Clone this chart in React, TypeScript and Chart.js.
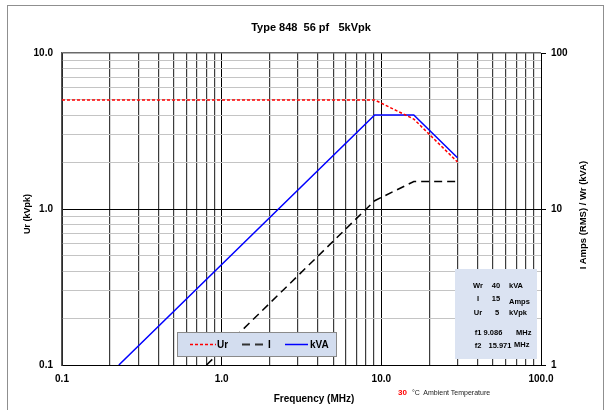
import React, { useEffect, useRef } from "react";
import { Chart, registerables } from "chart.js";

Chart.register(...registerables);

// ---- data ----
const freqUr = [0.1, 9.086, 15.971, 30];
const urValues = [5, 5, 3.77, 2.0];
const freqI = [0.804, 9.086, 15.971, 30];
const iValues = [1, 11.3, 15, 15];
const freqKva = [0.227, 9.086, 15.971, 30];
const kvaValues = [1, 40, 40, 21.3];

// ---- ticks ----
const xDecades = [0.1, 1, 10];
const leftDecades = [0.1, 1];
const multiples = [1, 2, 3, 4, 5, 6, 7, 8, 9];
const xMajorTicks = [0.1, 1, 10, 100];
const xTickLabels = ["0.1", "1.0", "10.0", "100.0"];
const leftMajorTicks = [0.1, 1, 10];
const leftTickLabels = ["0.1", "1.0", "10.0"];
const rightMajorTicks = [1, 10, 100];
const rightTickLabels = ["1", "10", "100"];

const infoLabels = ["Wr", "I", "Ur", "f1", "f2"];
const infoValues = ["40", "15", "5", "9.086", "15.971"];
const infoUnits = ["kVA", "Amps", "kVpk", "MHz", "MHz"];

const FONT = "'Liberation Sans', Arial, sans-serif";

const gridValues = (decades: number[], last: number) => {
  const out: number[] = [];
  decades.forEach((d) => multiples.forEach((m) => out.push(Math.round(d * m * 1e6) / 1e6)));
  out.push(last);
  return out;
};

const findIdx = (v: number, majors: number[]) =>
  majors.findIndex((m) => Math.abs(v - m) / m < 1e-6);

export default function App() {
  const ref = useRef<HTMLCanvasElement | null>(null);

  useEffect(() => {
    if (!ref.current) return;
    const xGrid = gridValues(xDecades, 100);
    const yGrid = gridValues(leftDecades, 10);
    const tickFont = { family: FONT, size: 10, weight: "bold" as const };
    const chart = new Chart(ref.current, {
      type: "line",
      data: {
        datasets: [
          {
            label: "Ur",
            data: freqUr.map((f, i) => ({ x: f, y: urValues[i] })),
            borderColor: "#ff0000",
            borderDash: [3, 2],
            borderWidth: 1.5,
            pointRadius: 0,
            yAxisID: "y",
          },
          {
            label: "I",
            data: freqI.map((f, i) => ({ x: f, y: iValues[i] })),
            borderColor: "#000000",
            borderDash: [8, 5],
            borderWidth: 1.5,
            pointRadius: 0,
            yAxisID: "y1",
          },
          {
            label: "kVA",
            data: freqKva.map((f, i) => ({ x: f, y: kvaValues[i] })),
            borderColor: "#0000ff",
            borderWidth: 1.5,
            pointRadius: 0,
            yAxisID: "y1",
          },
        ],
      },
      options: {
        animation: false,
        responsive: true,
        maintainAspectRatio: false,
        layout: { padding: { top: 53, left: 0, right: 0, bottom: 0 } },
        plugins: { legend: { display: false }, tooltip: { enabled: false } },
        scales: {
          x: {
            type: "logarithmic",
            min: 0.1,
            max: 100,
            afterBuildTicks: (s: any) => {
              s.ticks = xGrid.map((v) => ({ value: v }));
            },
            afterFit: (s: any) => {
              s.height = 45;
            },
            ticks: {
              autoSkip: false,
              maxRotation: 0,
              padding: 8,
              color: "#000",
              font: tickFont,
              callback: (v: any) => {
                const i = findIdx(Number(v), xMajorTicks);
                return i >= 0 ? xTickLabels[i] : "";
              },
            },
            grid: {
              drawTicks: false,
              color: (c: any) => (c.tick && findIdx(c.tick.value, xMajorTicks) >= 0 ? "#000" : "#3c3c3c"),
              lineWidth: (c: any) => (c.tick && findIdx(c.tick.value, xMajorTicks) >= 0 ? 1 : 1.2),
            },
            border: { color: "#000", width: 1 },
          },
          y: {
            type: "logarithmic",
            position: "left",
            min: 0.1,
            max: 10,
            afterBuildTicks: (s: any) => {
              s.ticks = yGrid.map((v) => ({ value: v }));
            },
            afterFit: (s: any) => {
              s.width = 62;
            },
            ticks: {
              autoSkip: false,
              padding: 9,
              color: "#000",
              font: tickFont,
              callback: (v: any) => {
                const i = findIdx(Number(v), leftMajorTicks);
                return i >= 0 ? leftTickLabels[i] : "";
              },
            },
            grid: {
              drawTicks: false,
              color: (c: any) => (c.tick && findIdx(c.tick.value, leftMajorTicks) >= 0 ? (c.tick.value === 10 ? "#6a6a6a" : "#000") : "#c4c4c4"),
              lineWidth: (c: any) => (c.tick && c.tick.value === 10 ? 1.5 : 1),
            },
            border: { color: "#555", width: 1.5 },
          },
          y1: {
            type: "logarithmic",
            position: "right",
            min: 1,
            max: 100,
            afterBuildTicks: (s: any) => {
              s.ticks = rightMajorTicks.map((v) => ({ value: v }));
            },
            afterFit: (s: any) => {
              s.width = 65;
            },
            ticks: {
              autoSkip: false,
              padding: 5,
              color: "#000",
              font: tickFont,
              callback: (v: any) => {
                const i = findIdx(Number(v), rightMajorTicks);
                return i >= 0 ? rightTickLabels[i] : "";
              },
            },
            grid: {
              drawOnChartArea: false,
              drawTicks: true,
              tickLength: 5,
              color: "#000",
            },
            border: { color: "#000", width: 1 },
          },
        },
      },
    });
    return () => chart.destroy();
  }, []);

  const abs = (s: React.CSSProperties): React.CSSProperties => ({ position: "absolute", ...s });

  // positions inside the info box (relative to box)
  const rowCenters = [16, 29, 43, 63, 76];
  const valueCenters = [41, 41, 42, 38, 45];
  const unitLefts = [54, 54, 54, 61, 59];
  const unitShift = [0, 3, 0, 0, -1];

  return (
    <div
      style={{
        position: "absolute",
        left: 0,
        top: 0,
        width: 606,
        height: 410,
        overflow: "hidden",
        background: "#fff",
        fontFamily: FONT,
      }}
    >
      <div style={abs({ left: 0, top: 0, width: 606, height: 410 })}>
        <canvas ref={ref} />
      </div>
      <div
        style={abs({
          left: 7,
          top: 5,
          width: 597,
          height: 430,
          border: "1px solid #8f8f8f",
          boxSizing: "border-box",
          pointerEvents: "none",
        })}
      />
      {/* title */}
      <div
        style={abs({
          left: 311,
          top: 27,
          transform: "translate(-50%, -50%)",
          fontSize: 11,
          fontWeight: "bold",
          whiteSpace: "pre",
        })}
      >
        {"Type 848  56 pf   5kVpk"}
      </div>
      {/* left axis title */}
      <div
        style={abs({
          left: 27,
          top: 214,
          transform: "translate(-50%, -50%) rotate(-90deg)",
          fontSize: 9,
          fontWeight: "bold",
          whiteSpace: "pre",
        })}
      >
        Ur (kVpk)
      </div>
      {/* right axis title */}
      <div
        style={abs({
          left: 582,
          top: 215,
          transform: "translate(-50%, -50%) rotate(-90deg)",
          fontSize: 9.5,
          fontWeight: "bold",
          whiteSpace: "pre",
        })}
      >
        I Amps (RMS) / Wr (kVA)
      </div>
      {/* x axis title */}
      <div
        style={abs({
          left: 314,
          top: 398,
          transform: "translate(-50%, -50%)",
          fontSize: 10,
          fontWeight: "bold",
          whiteSpace: "pre",
        })}
      >
        Frequency (MHz)
      </div>
      {/* ambient temperature */}
      <div style={abs({ left: 398, top: 388, fontSize: 8, fontWeight: "bold", color: "#ff0000" })}>30</div>
      <div style={abs({ left: 412, top: 389, fontSize: 7, color: "#222", whiteSpace: "pre" })}>
        {"°C  Ambient Temperature"}
      </div>
      {/* legend */}
      <div
        style={abs({
          left: 177,
          top: 332,
          width: 160,
          height: 25,
          background: "#d3ddef",
          border: "1px solid #8a8a8a",
          boxSizing: "border-box",
        })}
      >
        <svg width={160} height={25} style={{ position: "absolute", left: -1, top: -1 }}>
          <line x1={13} y1={12.5} x2={39} y2={12.5} stroke="#ff0000" strokeWidth={1.5} strokeDasharray="3 2" />
          <line x1={65} y1={12.5} x2={89} y2={12.5} stroke="#333" strokeWidth={2} strokeDasharray="8 5" />
          <line x1={108} y1={12.5} x2={131} y2={12.5} stroke="#0000ff" strokeWidth={1.5} />
        </svg>
        <div style={abs({ left: 39, top: 6, fontSize: 10, fontWeight: "bold" })}>Ur</div>
        <div style={abs({ left: 90, top: 6, fontSize: 10, fontWeight: "bold" })}>I</div>
        <div style={abs({ left: 132, top: 6, fontSize: 10, fontWeight: "bold" })}>kVA</div>
      </div>
      {/* info box */}
      <div
        style={abs({
          left: 455,
          top: 269,
          width: 82,
          height: 90,
          background: "#dbe3f2",
          fontSize: 7.5,
          fontWeight: "bold",
          lineHeight: "9px",
        })}
      >
        {infoLabels.map((lab, i) => (
          <React.Fragment key={i}>
            <div style={abs({ left: 13, top: rowCenters[i] - 4.5, width: 20, textAlign: "center" })}>{lab}</div>
            <div
              style={abs({
                left: valueCenters[i] - 20,
                top: rowCenters[i] - 4.5,
                width: 40,
                textAlign: "center",
              })}
            >
              {infoValues[i]}
            </div>
            <div style={abs({ left: unitLefts[i], top: rowCenters[i] - 4.5 + unitShift[i] })}>{infoUnits[i]}</div>
          </React.Fragment>
        ))}
      </div>
    </div>
  );
}
